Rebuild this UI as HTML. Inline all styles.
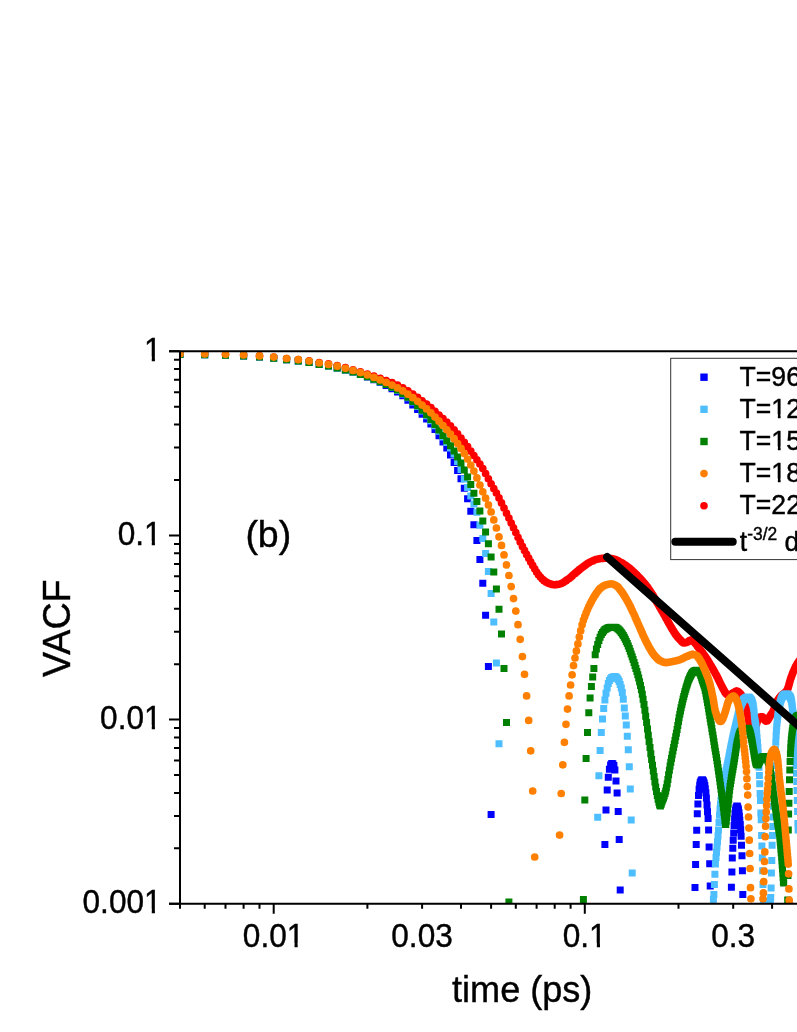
<!DOCTYPE html>
<html><head><meta charset="utf-8"><title>VACF</title>
<style>
html,body{margin:0;padding:0;background:#fff;overflow:hidden}
svg{display:block;will-change:transform}
text{font-family:"Liberation Sans",sans-serif;fill:#000;stroke:#000;stroke-width:.4px}
</style></head>
<body>
<svg width="797" height="1032" viewBox="0 0 797 1032">
<rect width="797" height="1032" fill="#fff"/>
<defs><clipPath id="pa"><rect x="180" y="351.3" width="627" height="552.5"/></clipPath></defs>
<g clip-path="url(#pa)">
<path fill="none" stroke="#ff0000" stroke-width="7.7" stroke-linecap="round" d="M180 353.7h.01M204.7 354h.01M225.5 354.3h.01M243.6 355h.01M259.5 355.9h.01M273.7 357.1h.01M286.6 358.5h.01M298.3 359.6h.01M309.1 360.8h.01M319.2 362.6h.01M328.5 363.8h.01M337.2 365.6h.01M345.4 367.7h.01M353.1 369.8h.01M360.4 371.8h.01M367.4 374h.01M373.9 376.2h.01M380.2 378.3h.01M386.2 380.5h.01M392 382.7h.01M397.5 385.2h.01M402.8 387.8h.01M407.9 390.8h.01M412.8 394h.01M417.6 397.4h.01M422.1 400.8h.01M426.6 404.2h.01M430.9 407.7h.01M435 411.3h.01M439 415h.01M443 418.6h.01M446.8 422.2h.01M450.5 425.9h.01M454.1 429.8h.01M457.6 433.9h.01M461 438.1h.01M464.3 442.3h.01M467.6 446.7h.01M470.8 451.2h.01M473.9 455.6h.01M476.9 459.8h.01M479.9 464.1h.01M482.8 468.6h.01M485.6 473.6h.01M488.4 478.8h.01M491.1 483.8h.01M493.8 488.5h.01M496.4 493.1h.01M499 497.9h.01M501.5 502.9h.01M504 508.1h.01M506.5 513.2h.01M508.9 518.1h.01M511.2 523h.01M513.5 527.8h.01M515.8 532.6h.01M518 537.3h.01M520.2 541.9h.01M522.4 546.4h.01M524.5 550.4h.01M526.6 554.4h.01M528.7 558.2h.01M530.7 561.9h.01M532.7 565.4h.01M534.7 568.8h.01M536.6 572h.01M538.5 574.8h.01M540.4 577h.01M542.3 579.1h.01M544.1 580.7h.01M545.9 581.9h.01M547.7 582.9h.01M549.5 583.7h.01M551.2 584.3h.01M553 584.6h.01M554.7 584.8h.01M556.3 584.7h.01M558 584.4h.01M559.6 584.1h.01M561.2 583.6h.01M562.8 582.8h.01M564.4 581.8h.01M566 580.7h.01M567.5 579.6h.01M569.1 578.5h.01M570.6 577.3h.01M572.1 575.9h.01M573.5 574.6h.01M575 573.4h.01M576.4 572.2h.01M577.9 570.9h.01M579.3 569.7h.01M580.7 568.6h.01M582.1 567.5h.01M583.4 566.5h.01M584.8 565.5h.01M586.1 564.5h.01M587.5 563.6h.01M588.8 562.8h.01M590.1 562.1h.01M591.4 561.5h.01M592.7 560.9h.01M593.9 560.3h.01M595.2 559.8h.01M596.4 559.4h.01M597.7 559.1h.01M598.9 558.9h.01M600.1 558.7h.01M601.3 558.5h.01M602.5 558.4h.01M603.7 558.3h.01M604.9 558.2h.01M606 558.2h.01M607.2 558.2h.01M608.3 558.3h.01M609.4 558.4h.01M610.6 558.5h.01M611.7 558.7h.01M612.8 558.8h.01M613.9 559h.01M614.9 559.4h.01M616 559.8h.01M617.1 560.3h.01M618.2 560.9h.01M619.2 561.5h.01M620.2 562h.01M621.3 562.6h.01M622.3 563.2h.01M623.3 563.8h.01M624.3 564.5h.01M625.3 565.2h.01M626.3 565.9h.01M627.3 566.6h.01M628.3 567.4h.01M629.3 568.1h.01M630.3 568.9h.01M631.2 569.8h.01M632.2 570.6h.01M633.1 571.5h.01M634.1 572.4h.01M635 573.3h.01M635.9 574.2h.01M636.9 575.2h.01M637.8 576.1h.01M638.7 577h.01M639.6 577.9h.01M640.5 578.8h.01M641.4 579.8h.01M642.3 580.8h.01M643.1 581.8h.01M644 582.8h.01M644.9 583.8h.01M645.7 584.9h.01M646.6 586h.01M647.5 587.2h.01M648.3 588.3h.01M649.1 589.6h.01M650 590.8h.01M650.8 592h.01M651.6 593.3h.01M652.5 594.6h.01M653.3 595.9h.01M654.1 597.3h.01M654.9 598.7h.01M655.7 600.1h.01M656.5 601.4h.01M657.3 602.8h.01M658.1 604.1h.01M658.9 605.5h.01M659.6 606.8h.01M660.4 608.1h.01M661.2 609.4h.01M661.9 610.8h.01M662.7 612.1h.01M663.5 613.4h.01M664.2 614.7h.01M665 616h.01M665.7 617.4h.01M666.4 618.7h.01M667.2 620.1h.01M667.9 621.4h.01M668.6 622.7h.01M669.4 624h.01M670.1 625.3h.01M670.8 626.5h.01M671.5 627.7h.01M672.2 628.9h.01M672.9 630.1h.01M673.6 631.2h.01M674.3 632.3h.01M675 633.4h.01M675.7 634.4h.01M676.4 635.3h.01M677.1 636.2h.01M677.8 637.1h.01M678.5 637.9h.01M679.1 638.6h.01M679.8 639.3h.01M680.5 640h.01M681.1 640.6h.01M681.8 641.4h.01M682.4 642h.01M683.1 642.6h.01M683.7 642.9h.01M684.4 643h.01M685 642.9h.01M685.7 642.7h.01M686.3 642.5h.01M687 642.3h.01M687.6 642h.01M688.2 641.5h.01M688.8 641h.01M689.5 640.5h.01M690.1 640.3h.01M690.7 640.3h.01M691.3 640.4h.01M691.9 640.6h.01M692.6 640.8h.01M693.2 641.1h.01M693.8 641.5h.01M694.4 642.1h.01M695 642.9h.01M695.6 643.6h.01M696.2 644.3h.01M696.7 645.1h.01M697.3 646h.01M697.9 646.8h.01M698.5 647.6h.01M699.1 648.4h.01M699.7 649.1h.01M700.2 649.8h.01M700.8 650.6h.01M701.4 651.3h.01M702 652h.01M702.5 652.7h.01M703.1 653.5h.01M703.6 654.3h.01M704.2 655.1h.01M704.8 655.9h.01M705.3 656.7h.01M705.9 657.5h.01M706.4 658.4h.01M707 659.2h.01M707.5 660.1h.01M708.1 660.9h.01M708.6 661.8h.01M709.1 662.7h.01M709.7 663.6h.01M710.2 664.5h.01M710.7 665.3h.01M711.3 666.2h.01M711.8 667.1h.01M712.3 668h.01M712.9 668.9h.01M713.4 669.9h.01M713.9 670.8h.01M714.4 671.7h.01M714.9 672.6h.01M715.4 673.5h.01M716 674.5h.01M716.5 675.4h.01M717 676.4h.01M717.5 677.3h.01M718 678.4h.01M718.5 679.4h.01M719 680.4h.01M719.5 681.5h.01M720 682.5h.01M720.5 683.6h.01M721 684.6h.01M721.5 685.6h.01M722 686.5h.01M722.5 687.4h.01M722.9 688.3h.01M723.4 689.2h.01M723.9 690.1h.01M724.4 691h.01M724.9 691.9h.01M725.4 692.6h.01M725.8 693.3h.01M726.3 693.8h.01M726.8 694.1h.01M727.2 694.4h.01M727.7 694.7h.01M728.2 695h.01M728.7 695.2h.01M729.1 695.3h.01M729.6 695.3h.01M730 695.2h.01M730.5 695h.01M731 694.6h.01M731.4 694.2h.01M731.9 693.8h.01M732.3 693.5h.01M732.8 693.1h.01M733.2 692.9h.01M733.7 692.6h.01M734.1 692.3h.01M734.6 692h.01M735 691.8h.01M735.5 691.5h.01M735.9 691.4h.01M736.3 691.2h.01M736.8 691.2h.01M737.2 691.3h.01M737.7 691.4h.01M738.1 691.7h.01M738.5 692h.01M739 692.4h.01M739.4 692.8h.01M739.8 693.3h.01M740.3 693.7h.01M740.7 694.2h.01M741.1 694.7h.01M741.5 695.4h.01M742 696h.01M742.4 696.8h.01M742.8 697.6h.01M743.2 698.5h.01M743.6 699.5h.01M744 700.5h.01M744.5 701.5h.01M744.9 702.7h.01M745.3 703.9h.01M745.7 705.3h.01M746.1 706.9h.01M746.5 708.7h.01M746.9 710.6h.01M747.3 712.6h.01M747.7 714.7h.01M748.1 716.7h.01M748.5 719h.01M748.9 721.5h.01M749.3 724h.01M749.7 726.6h.01M750.1 729.6h.01M750.5 732.4h.01M750.9 734.7h.01M751.3 736.5h.01M751.7 738.3h.01M752.1 739.8h.01M752.5 740.8h.01M752.9 741h.01M753.3 740.3h.01M753.7 738.8h.01M754.1 736.9h.01M754.4 734.8h.01M754.8 732.8h.01M755.2 731h.01M755.6 728.9h.01M756 726.8h.01M756.4 724.8h.01M756.7 723.2h.01M757.1 722h.01M757.5 720.9h.01M757.9 719.9h.01M758.2 719h.01M758.6 718.3h.01M759 717.7h.01M759.4 717.5h.01M759.7 717.3h.01M760.1 717.1h.01M760.5 717h.01M760.8 716.9h.01M761.2 716.8h.01M761.6 716.8h.01M761.9 716.8h.01M762.3 716.9h.01M762.7 717.2h.01M763 717.6h.01M763.4 718h.01M763.7 718.5h.01M764.1 719.1h.01M764.5 719.6h.01M764.8 720.1h.01M765.2 720.5h.01M765.5 720.9h.01M765.9 721.1h.01M766.2 721.2h.01M766.6 721.1h.01M766.9 720.9h.01M767.3 720.6h.01M767.6 720.2h.01M768 719.7h.01M768.3 719.1h.01M768.7 718.5h.01M769 717.9h.01M769.4 717.3h.01M769.7 716.7h.01M770.1 716.2h.01M770.4 715.7h.01M770.7 715.2h.01M771.1 714.7h.01M771.4 714.2h.01M771.8 713.7h.01M772.1 713.1h.01M772.4 712.6h.01M772.8 711.9h.01M773.1 711.3h.01M773.4 710.5h.01M773.8 709.7h.01M774.1 708.8h.01M774.4 707.8h.01M774.8 706.9h.01M775.1 705.9h.01M775.4 705h.01M775.8 704.1h.01M776.1 703.3h.01M776.4 702.5h.01M776.7 701.9h.01M777.1 701.3h.01M777.4 700.8h.01M777.7 700.3h.01M778 699.8h.01M778.4 699.3h.01M778.7 698.9h.01M779 698.4h.01M779.3 698h.01M779.7 697.6h.01M780 697.2h.01M780.3 696.8h.01M780.6 696.4h.01M780.9 696.1h.01M781.2 695.7h.01M781.6 695.4h.01M781.9 695.1h.01M782.2 694.8h.01M782.5 694.6h.01M782.8 694.3h.01M783.1 694.1h.01M783.4 693.8h.01M783.7 693.6h.01M784.1 693.4h.01M784.4 693.1h.01M784.7 692.9h.01M785 692.6h.01M785.3 692.3h.01M785.6 692h.01M785.9 691.7h.01M786.2 691.3h.01M786.5 691h.01M786.8 690.5h.01M787.1 690.1h.01M787.4 689.4h.01M787.7 688.7h.01M788 687.9h.01M788.3 687h.01M788.6 686h.01M788.9 684.9h.01M789.2 683.9h.01M789.5 682.8h.01M789.8 681.7h.01M790.1 680.6h.01M790.4 679.6h.01M790.7 678.6h.01M791 677.7h.01M791.3 676.9h.01M791.6 676.1h.01M791.9 675.3h.01M792.2 674.6h.01M792.4 673.8h.01M792.7 673.1h.01M793 672.4h.01M793.3 671.7h.01M793.6 671.1h.01M793.9 670.4h.01M794.2 669.8h.01M794.5 669.1h.01M794.7 668.5h.01M795 667.9h.01M795.3 667.3h.01M795.6 666.7h.01M795.9 666.2h.01M796.2 665.6h.01M796.5 665.1h.01M796.7 664.6h.01M797 664.2h.01M797.3 663.7h.01M797.6 663.3h.01M797.9 662.9h.01M798.1 662.5h.01M798.4 662.1h.01M798.7 661.7h.01M799 661.3h.01M799.2 660.9h.01M799.5 660.6h.01M799.8 660.3h.01M800.1 659.9h.01M800.3 659.6h.01M800.6 659.4h.01M800.9 659.1h.01M801.2 659h.01"/>
<path fill="#0000ff" d="M176.5 351h7v7h-7zM201.2 351.3h7v7h-7zM222 351.7h7v7h-7zM240.1 352.5h7v7h-7zM256 353.5h7v7h-7zM270.2 354.7h7v7h-7zM283.1 356.2h7v7h-7zM294.8 357.5h7v7h-7zM305.6 359.1h7v7h-7zM315.7 361h7v7h-7zM325 362.6h7v7h-7zM333.7 364.4h7v7h-7zM341.9 366.5h7v7h-7zM349.6 368.6h7v7h-7zM356.9 370.9h7v7h-7zM363.9 373.5h7v7h-7zM370.4 376.2h7v7h-7zM376.7 379.1h7v7h-7zM382.7 382.1h7v7h-7zM388.5 385.2h7v7h-7zM394 388.6h7v7h-7zM399.3 392.3h7v7h-7zM404.4 396.7h7v7h-7zM409.3 401.4h7v7h-7zM414.1 406h7v7h-7zM418.6 410.7h7v7h-7zM423.1 415.5h7v7h-7zM427.4 420.6h7v7h-7zM431.5 426.1h7v7h-7zM435.5 432.2h7v7h-7zM439.5 438.4h7v7h-7zM443.3 444.6h7v7h-7zM447 451.4h7v7h-7zM450.6 459h7v7h-7zM454.1 466.9h7v7h-7zM457.5 475.3h7v7h-7zM460.8 484.7h7v7h-7zM464.1 495.3h7v7h-7zM467.3 507.8h7v7h-7zM470.4 521.2h7v7h-7zM473.4 536.9h7v7h-7zM476.4 556h7v7h-7zM479.3 579.7h7v7h-7zM482.1 611.8h7v7h-7zM484.9 662.9h7v7h-7zM487.6 811.1h7v7h-7zM601.4 841h7v7h-7zM602.5 806.6h7v7h-7zM603.7 786.4h7v7h-7zM604.8 773.8h7v7h-7zM605.9 765.8h7v7h-7zM607.1 761.5h7v7h-7zM608.2 760h7v7h-7zM609.3 760.2h7v7h-7zM610.4 761.9h7v7h-7zM611.4 766.4h7v7h-7zM612.5 777.4h7v7h-7zM613.6 789.5h7v7h-7zM614.7 808h7v7h-7zM615.7 835.9h7v7h-7zM616.7 886.6h7v7h-7zM691.5 884h7v7h-7zM692.1 860.9h7v7h-7zM692.7 841.1h7v7h-7zM693.2 826.8h7v7h-7zM693.8 810.3h7v7h-7zM694.4 800.4h7v7h-7zM695 792.1h7v7h-7zM695.6 785.8h7v7h-7zM696.2 781.8h7v7h-7zM696.7 779.2h7v7h-7zM697.3 777.8h7v7h-7zM697.9 776.8h7v7h-7zM698.5 776.3h7v7h-7zM699 776.3h7v7h-7zM699.6 777h7v7h-7zM700.1 778.2h7v7h-7zM700.7 779.6h7v7h-7zM701.3 782h7v7h-7zM701.8 785.3h7v7h-7zM702.4 789.3h7v7h-7zM702.9 794.5h7v7h-7zM703.5 801.5h7v7h-7zM704 808.2h7v7h-7zM704.6 815.1h7v7h-7zM705.1 826.6h7v7h-7zM705.6 843.6h7v7h-7zM706.2 860.2h7v7h-7zM706.7 882.5h7v7h-7zM727.9 883.7h7v7h-7zM728.4 868.6h7v7h-7zM728.8 854.6h7v7h-7zM729.3 844.7h7v7h-7zM729.7 836.7h7v7h-7zM730.2 829.6h7v7h-7zM730.6 821.9h7v7h-7zM731.1 815.5h7v7h-7zM731.5 810.3h7v7h-7zM732 806.7h7v7h-7zM732.4 804.8h7v7h-7zM732.8 803.4h7v7h-7zM733.3 802.6h7v7h-7zM733.7 802.6h7v7h-7zM734.2 803.5h7v7h-7zM734.6 804.9h7v7h-7zM735 806.6h7v7h-7zM735.5 809.2h7v7h-7zM735.9 812.7h7v7h-7zM736.3 816.7h7v7h-7zM736.8 821.1h7v7h-7zM737.2 826.3h7v7h-7zM737.6 832.7h7v7h-7zM738 841.8h7v7h-7zM738.5 852.2h7v7h-7zM738.9 867.3h7v7h-7zM739.3 890.9h7v7h-7z"/>
<path fill="#4dbeff" d="M176.5 351h7v7h-7zM201.2 351.3h7v7h-7zM222 351.7h7v7h-7zM240.1 352.5h7v7h-7zM256 353.5h7v7h-7zM270.2 354.7h7v7h-7zM283.1 356.2h7v7h-7zM294.8 357.5h7v7h-7zM305.6 359.1h7v7h-7zM315.7 361h7v7h-7zM325 362.6h7v7h-7zM333.7 364.5h7v7h-7zM341.9 366.5h7v7h-7zM349.6 368.6h7v7h-7zM356.9 370.9h7v7h-7zM363.9 373.3h7v7h-7zM370.4 375.9h7v7h-7zM376.7 378.5h7v7h-7zM382.7 381.1h7v7h-7zM388.5 384h7v7h-7zM394 387h7v7h-7zM399.3 390.4h7v7h-7zM404.4 394.3h7v7h-7zM409.3 398.6h7v7h-7zM414.1 403h7v7h-7zM418.6 407.5h7v7h-7zM423.1 412.2h7v7h-7zM427.4 417.2h7v7h-7zM431.5 422.3h7v7h-7zM435.5 427.8h7v7h-7zM439.5 433.5h7v7h-7zM443.3 439.1h7v7h-7zM447 444.5h7v7h-7zM450.6 450.5h7v7h-7zM454.1 458h7v7h-7zM457.5 466h7v7h-7zM460.8 475.5h7v7h-7zM464.1 484h7v7h-7zM467.3 492.5h7v7h-7zM470.4 500.5h7v7h-7zM473.4 508.8h7v7h-7zM476.4 521.8h7v7h-7zM479.3 534.9h7v7h-7zM482.1 549.9h7v7h-7zM484.9 568h7v7h-7zM487.6 590.1h7v7h-7zM490.3 618.5h7v7h-7zM492.9 659.5h7v7h-7zM495.5 740.2h7v7h-7zM594.2 813.8h7v7h-7zM595.4 772.2h7v7h-7zM596.6 746.9h7v7h-7zM597.8 729h7v7h-7zM599 715.6h7v7h-7zM600.2 705.1h7v7h-7zM601.4 696.5h7v7h-7zM602.5 689.7h7v7h-7zM603.7 684.4h7v7h-7zM604.8 679.9h7v7h-7zM605.9 677h7v7h-7zM607.1 675.2h7v7h-7zM608.2 674h7v7h-7zM609.3 673.5h7v7h-7zM610.4 673.2h7v7h-7zM611.4 673.1h7v7h-7zM612.5 673.6h7v7h-7zM613.6 674.6h7v7h-7zM614.7 675.9h7v7h-7zM615.7 678h7v7h-7zM616.7 680.9h7v7h-7zM617.8 684.4h7v7h-7zM618.8 689.1h7v7h-7zM619.8 695.7h7v7h-7zM620.8 704.5h7v7h-7zM621.8 712.4h7v7h-7zM622.8 721.4h7v7h-7zM623.8 732.7h7v7h-7zM624.8 746.2h7v7h-7zM625.8 763.2h7v7h-7zM626.8 785.4h7v7h-7zM627.7 816.5h7v7h-7zM628.7 869.4h7v7h-7zM709.9 896h7v7h-7zM710.4 891.1h7v7h-7zM710.9 880.9h7v7h-7zM711.4 870.7h7v7h-7zM711.9 860.4h7v7h-7zM712.5 854.1h7v7h-7zM713 848.8h7v7h-7zM713.5 843.5h7v7h-7zM714 838.2h7v7h-7zM714.5 832.6h7v7h-7zM715 826.4h7v7h-7zM715.5 819.1h7v7h-7zM716 811.8h7v7h-7zM716.5 805.4h7v7h-7zM717 800.7h7v7h-7zM717.5 796.7h7v7h-7zM718 793.1h7v7h-7zM718.5 789.8h7v7h-7zM719 786.8h7v7h-7zM719.4 783.9h7v7h-7zM719.9 781.2h7v7h-7zM720.4 778.4h7v7h-7zM720.9 775.8h7v7h-7zM721.4 773.3h7v7h-7zM721.9 770.9h7v7h-7zM722.3 768.6h7v7h-7zM722.8 766.3h7v7h-7zM723.3 764.1h7v7h-7zM723.7 761.9h7v7h-7zM724.2 759.6h7v7h-7zM724.7 757.3h7v7h-7zM725.2 754.9h7v7h-7zM725.6 752.5h7v7h-7zM726.1 750.1h7v7h-7zM726.5 747.7h7v7h-7zM727 745.3h7v7h-7zM727.5 742.9h7v7h-7zM727.9 740.7h7v7h-7zM728.4 738.5h7v7h-7zM728.8 736.4h7v7h-7zM729.3 734.3h7v7h-7zM729.7 732.3h7v7h-7zM730.2 730.4h7v7h-7zM730.6 728.5h7v7h-7zM731.1 726.6h7v7h-7zM731.5 724.7h7v7h-7zM732 722.8h7v7h-7zM732.4 721h7v7h-7zM732.8 719.2h7v7h-7zM733.3 717.2h7v7h-7zM733.7 715.3h7v7h-7zM734.2 713.4h7v7h-7zM734.6 711.5h7v7h-7zM735 709.7h7v7h-7zM735.5 708h7v7h-7zM735.9 706.4h7v7h-7zM736.3 705h7v7h-7zM736.8 703.8h7v7h-7zM737.2 702.6h7v7h-7zM737.6 701.5h7v7h-7zM738 700.3h7v7h-7zM738.5 699.3h7v7h-7zM738.9 698.4h7v7h-7zM739.3 697.5h7v7h-7zM739.7 696.7h7v7h-7zM740.1 696.1h7v7h-7zM740.5 695.6h7v7h-7zM741 695.3h7v7h-7zM741.4 695h7v7h-7zM741.8 694.6h7v7h-7zM742.2 694.4h7v7h-7zM742.6 694.1h7v7h-7zM743 693.9h7v7h-7zM743.4 693.7h7v7h-7zM743.8 693.6h7v7h-7zM744.2 693.5h7v7h-7zM744.6 693.5h7v7h-7zM745 693.6h7v7h-7zM745.4 693.8h7v7h-7zM745.8 694.1h7v7h-7zM746.2 694.5h7v7h-7zM746.6 694.9h7v7h-7zM747 695.4h7v7h-7zM747.4 695.9h7v7h-7zM747.8 696.5h7v7h-7zM748.2 697.3h7v7h-7zM748.6 698.2h7v7h-7zM749 699.4h7v7h-7zM749.4 700.8h7v7h-7zM749.8 702.4h7v7h-7zM750.2 705.2h7v7h-7zM750.6 708.5h7v7h-7zM750.9 712.6h7v7h-7zM751.3 715.7h7v7h-7zM751.7 718.1h7v7h-7zM752.1 720.2h7v7h-7zM752.5 722.7h7v7h-7zM752.9 726h7v7h-7zM753.2 729.9h7v7h-7zM753.6 734.2h7v7h-7zM754 738.8h7v7h-7zM754.4 743.7h7v7h-7zM754.7 749.2h7v7h-7zM755.1 755.6h7v7h-7zM755.5 763.7h7v7h-7zM755.9 771.9h7v7h-7zM756.2 780.2h7v7h-7zM756.6 789.9h7v7h-7zM757 797.1h7v7h-7zM757.3 809.6h7v7h-7zM757.7 816.2h7v7h-7zM758.1 832.1h7v7h-7zM758.4 842.4h7v7h-7zM758.8 854.3h7v7h-7zM759.2 867.2h7v7h-7zM759.5 880.9h7v7h-7zM759.9 898h7v7h-7zM766.9 896.5h7v7h-7zM767.2 894h7v7h-7zM767.6 884.4h7v7h-7zM767.9 869.4h7v7h-7zM768.3 856.9h7v7h-7zM768.6 841.8h7v7h-7zM768.9 832h7v7h-7zM769.3 822.9h7v7h-7zM769.6 813.4h7v7h-7zM769.9 802.8h7v7h-7zM770.3 792.1h7v7h-7zM770.6 781.7h7v7h-7zM770.9 771.4h7v7h-7zM771.3 762.1h7v7h-7zM771.6 753.8h7v7h-7zM771.9 745.9h7v7h-7zM772.3 738.7h7v7h-7zM772.6 732.3h7v7h-7zM772.9 727.2h7v7h-7zM773.2 723h7v7h-7zM773.6 719.2h7v7h-7zM773.9 716h7v7h-7zM774.2 713.1h7v7h-7zM774.5 710.7h7v7h-7zM774.9 708.4h7v7h-7zM775.2 706.3h7v7h-7zM775.5 704.4h7v7h-7zM775.8 702.6h7v7h-7zM776.2 701h7v7h-7zM776.5 699.7h7v7h-7zM776.8 698.5h7v7h-7zM777.1 697.5h7v7h-7zM777.4 696.6h7v7h-7zM777.7 695.7h7v7h-7zM778.1 694.8h7v7h-7zM778.4 694.1h7v7h-7zM778.7 693.5h7v7h-7zM779 692.9h7v7h-7zM779.3 692.5h7v7h-7zM779.6 692.2h7v7h-7zM779.9 691.9h7v7h-7zM780.2 691.6h7v7h-7zM780.6 691.4h7v7h-7zM780.9 691.1h7v7h-7zM781.2 690.9h7v7h-7zM781.5 690.7h7v7h-7zM781.8 690.6h7v7h-7zM782.1 690.4h7v7h-7zM782.4 690.4h7v7h-7zM782.7 690.3h7v7h-7zM783 690.3h7v7h-7zM783.3 690.4h7v7h-7zM783.6 690.5h7v7h-7zM783.9 690.6h7v7h-7zM784.2 690.9h7v7h-7zM784.5 691.1h7v7h-7zM784.8 691.4h7v7h-7zM785.1 691.6h7v7h-7zM785.4 691.9h7v7h-7zM785.7 692.2h7v7h-7zM786 692.6h7v7h-7zM786.3 693h7v7h-7zM786.6 693.5h7v7h-7zM786.9 694h7v7h-7zM787.2 694.7h7v7h-7zM787.5 695.5h7v7h-7zM787.8 696.6h7v7h-7zM788.1 698.2h7v7h-7zM788.4 700.3h7v7h-7zM788.7 702.5h7v7h-7zM788.9 704.6h7v7h-7zM789.2 706.8h7v7h-7zM789.5 709h7v7h-7zM789.8 711.4h7v7h-7zM790.1 714.1h7v7h-7zM790.4 717.2h7v7h-7zM790.7 720.8h7v7h-7zM791 725.2h7v7h-7zM791.2 730.3h7v7h-7zM791.5 736h7v7h-7zM791.8 742h7v7h-7zM792.1 748.3h7v7h-7zM792.4 754.9h7v7h-7zM792.7 762h7v7h-7zM793 769.7h7v7h-7zM793.2 778h7v7h-7zM793.5 787h7v7h-7zM793.8 797h7v7h-7zM794.1 808.1h7v7h-7zM794.4 820h7v7h-7zM794.6 826.5h7v7h-7z"/>
<path fill="#008000" d="M176.5 351h7v7h-7zM201.2 351.3h7v7h-7zM222 351.7h7v7h-7zM240.1 352.5h7v7h-7zM256 353.5h7v7h-7zM270.2 354.7h7v7h-7zM283.1 356.2h7v7h-7zM294.8 357.5h7v7h-7zM305.6 359.1h7v7h-7zM315.7 361h7v7h-7zM325 362.6h7v7h-7zM333.7 364.5h7v7h-7zM341.9 366.5h7v7h-7zM349.6 368.6h7v7h-7zM356.9 370.9h7v7h-7zM363.9 373.3h7v7h-7zM370.4 375.8h7v7h-7zM376.7 378.3h7v7h-7zM382.7 380.9h7v7h-7zM388.5 383.7h7v7h-7zM394 386.6h7v7h-7zM399.3 389.9h7v7h-7zM404.4 393.8h7v7h-7zM409.3 398h7v7h-7zM414.1 402.3h7v7h-7zM418.6 406.7h7v7h-7zM423.1 411.2h7v7h-7zM427.4 416h7v7h-7zM431.5 421h7v7h-7zM435.5 426.4h7v7h-7zM439.5 432h7v7h-7zM443.3 437.3h7v7h-7zM447 442.2h7v7h-7zM450.6 447.5h7v7h-7zM454.1 453.6h7v7h-7zM457.5 459.6h7v7h-7zM460.8 466.6h7v7h-7zM464.1 473.6h7v7h-7zM467.3 481.1h7v7h-7zM470.4 489.7h7v7h-7zM473.4 498.1h7v7h-7zM476.4 507.4h7v7h-7zM479.3 517.4h7v7h-7zM482.1 528.4h7v7h-7zM484.9 540.3h7v7h-7zM487.6 553.5h7v7h-7zM490.3 568.4h7v7h-7zM492.9 585.5h7v7h-7zM495.5 605.8h7v7h-7zM498 630.6h7v7h-7zM500.5 664.9h7v7h-7zM503 719.1h7v7h-7zM505.4 898.5h7v7h-7zM579.9 896h7v7h-7zM581.3 796.5h7v7h-7zM582.6 755.1h7v7h-7zM584 729h7v7h-7zM585.3 709.3h7v7h-7zM586.6 694.4h7v7h-7zM587.9 683.1h7v7h-7zM589.2 673.6h7v7h-7zM590.4 664.9h7v7h-7zM591.7 651.2h7v7h-7zM592.9 645.4h7v7h-7zM594.2 641.1h7v7h-7zM595.4 637.1h7v7h-7zM596.6 633.7h7v7h-7zM597.8 631.1h7v7h-7zM599 629.1h7v7h-7zM600.2 627.4h7v7h-7zM601.4 626.1h7v7h-7zM602.5 625.4h7v7h-7zM603.7 624.7h7v7h-7zM604.8 624.2h7v7h-7zM605.9 623.9h7v7h-7zM607.1 623.7h7v7h-7zM608.2 623.7h7v7h-7zM609.3 623.7h7v7h-7zM610.4 623.7h7v7h-7zM611.4 623.7h7v7h-7zM612.5 624h7v7h-7zM613.6 624.7h7v7h-7zM614.7 625.5h7v7h-7zM615.7 626.4h7v7h-7zM616.7 627.5h7v7h-7zM617.8 628.9h7v7h-7zM618.8 630.4h7v7h-7zM619.8 632.1h7v7h-7zM620.8 633.8h7v7h-7zM621.8 635.8h7v7h-7zM622.8 637.9h7v7h-7zM623.8 640.1h7v7h-7zM624.8 642.5h7v7h-7zM625.8 645.1h7v7h-7zM626.8 647.8h7v7h-7zM627.7 650.6h7v7h-7zM628.7 653.3h7v7h-7zM629.6 656.1h7v7h-7zM630.6 659h7v7h-7zM631.5 661.9h7v7h-7zM632.4 664.9h7v7h-7zM633.4 668h7v7h-7zM634.3 671.2h7v7h-7zM635.2 674.6h7v7h-7zM636.1 678.3h7v7h-7zM637 682.1h7v7h-7zM637.9 686.3h7v7h-7zM638.8 690.8h7v7h-7zM639.6 695.7h7v7h-7zM640.5 701.1h7v7h-7zM641.4 706.8h7v7h-7zM642.2 712.7h7v7h-7zM643.1 719h7v7h-7zM644 725.4h7v7h-7zM644.8 731.7h7v7h-7zM645.6 737.9h7v7h-7zM646.5 744.1h7v7h-7zM647.3 750.2h7v7h-7zM648.1 756.1h7v7h-7zM649 761.8h7v7h-7zM649.8 767.5h7v7h-7zM650.6 773.1h7v7h-7zM651.4 778.5h7v7h-7zM652.2 783.5h7v7h-7zM653 788h7v7h-7zM653.8 792.1h7v7h-7zM654.6 795.7h7v7h-7zM655.4 798.7h7v7h-7zM656.1 801.4h7v7h-7zM656.9 802.6h7v7h-7zM657.7 800.8h7v7h-7zM658.4 798.4h7v7h-7zM659.2 796.4h7v7h-7zM660 794.4h7v7h-7zM660.7 792.4h7v7h-7zM661.5 790.1h7v7h-7zM662.2 787.5h7v7h-7zM662.9 784.2h7v7h-7zM663.7 780.3h7v7h-7zM664.4 775.9h7v7h-7zM665.1 771.3h7v7h-7zM665.9 766.8h7v7h-7zM666.6 762.6h7v7h-7zM667.3 758.7h7v7h-7zM668 754.9h7v7h-7zM668.7 751.2h7v7h-7zM669.4 747.6h7v7h-7zM670.1 744h7v7h-7zM670.8 740.5h7v7h-7zM671.5 736.9h7v7h-7zM672.2 733.3h7v7h-7zM672.9 729.7h7v7h-7zM673.6 726h7v7h-7zM674.3 722.1h7v7h-7zM675 718.1h7v7h-7zM675.6 714.2h7v7h-7zM676.3 710.7h7v7h-7zM677 707.5h7v7h-7zM677.6 704.3h7v7h-7zM678.3 701.3h7v7h-7zM678.9 698.4h7v7h-7zM679.6 695.6h7v7h-7zM680.2 692.9h7v7h-7zM680.9 690.4h7v7h-7zM681.5 688h7v7h-7zM682.2 685.8h7v7h-7zM682.8 683.5h7v7h-7zM683.5 681.4h7v7h-7zM684.1 679.4h7v7h-7zM684.7 677.5h7v7h-7zM685.3 675.9h7v7h-7zM686 674.5h7v7h-7zM686.6 673.2h7v7h-7zM687.2 671.9h7v7h-7zM687.8 670.8h7v7h-7zM688.4 669.7h7v7h-7zM689.1 668.9h7v7h-7zM689.7 668.2h7v7h-7zM690.3 667.8h7v7h-7zM690.9 667.5h7v7h-7zM691.5 667.2h7v7h-7zM692.1 667h7v7h-7zM692.7 666.8h7v7h-7zM693.2 666.8h7v7h-7zM693.8 667h7v7h-7zM694.4 667.4h7v7h-7zM695 667.9h7v7h-7zM695.6 668.6h7v7h-7zM696.2 669.3h7v7h-7zM696.7 670.3h7v7h-7zM697.3 671.9h7v7h-7zM697.9 673.8h7v7h-7zM698.5 675.7h7v7h-7zM699 677.3h7v7h-7zM699.6 678.8h7v7h-7zM700.1 680.4h7v7h-7zM700.7 682.2h7v7h-7zM701.3 684.3h7v7h-7zM701.8 686.9h7v7h-7zM702.4 689.8h7v7h-7zM702.9 692.7h7v7h-7zM703.5 695.8h7v7h-7zM704 698.9h7v7h-7zM704.6 702.1h7v7h-7zM705.1 705.3h7v7h-7zM705.6 708.6h7v7h-7zM706.2 711.9h7v7h-7zM706.7 715.1h7v7h-7zM707.2 718.4h7v7h-7zM707.8 721.6h7v7h-7zM708.3 724.9h7v7h-7zM708.8 728.2h7v7h-7zM709.4 731.5h7v7h-7zM709.9 734.8h7v7h-7zM710.4 738.1h7v7h-7zM710.9 741.4h7v7h-7zM711.4 744.6h7v7h-7zM711.9 747.7h7v7h-7zM712.5 750.9h7v7h-7zM713 754.1h7v7h-7zM713.5 757.3h7v7h-7zM714 760.6h7v7h-7zM714.5 763.9h7v7h-7zM715 767.4h7v7h-7zM715.5 770.9h7v7h-7zM716 774.6h7v7h-7zM716.5 778.3h7v7h-7zM717 782h7v7h-7zM717.5 785.7h7v7h-7zM718 789.2h7v7h-7zM718.5 792.6h7v7h-7zM719 796.1h7v7h-7zM719.4 799.8h7v7h-7zM719.9 804h7v7h-7zM720.4 808.4h7v7h-7zM720.9 812.6h7v7h-7zM721.4 816.9h7v7h-7zM721.9 820.8h7v7h-7zM722.3 821h7v7h-7zM722.8 817.8h7v7h-7zM723.3 813.7h7v7h-7zM723.7 809.7h7v7h-7zM724.2 805.2h7v7h-7zM724.7 800.6h7v7h-7zM725.2 795.9h7v7h-7zM725.6 791h7v7h-7zM726.1 786.7h7v7h-7zM726.5 783.1h7v7h-7zM727 780h7v7h-7zM727.5 777h7v7h-7zM727.9 774.1h7v7h-7zM728.4 771.3h7v7h-7zM728.8 768.6h7v7h-7zM729.3 765.9h7v7h-7zM729.7 763.3h7v7h-7zM730.2 760.7h7v7h-7zM730.6 758h7v7h-7zM731.1 755.3h7v7h-7zM731.5 752.3h7v7h-7zM732 749.3h7v7h-7zM732.4 746.3h7v7h-7zM732.8 743.5h7v7h-7zM733.3 741h7v7h-7zM733.7 738.8h7v7h-7zM734.2 737h7v7h-7zM734.6 735.2h7v7h-7zM735 733.5h7v7h-7zM735.5 732h7v7h-7zM735.9 730.6h7v7h-7zM736.3 729.5h7v7h-7zM736.8 728.5h7v7h-7zM737.2 727.9h7v7h-7zM737.6 727.4h7v7h-7zM738 726.9h7v7h-7zM738.5 726.5h7v7h-7zM738.9 726.2h7v7h-7zM739.3 725.8h7v7h-7zM739.7 725.6h7v7h-7zM740.1 725.4h7v7h-7zM740.5 725.3h7v7h-7zM741 725.2h7v7h-7zM741.4 725.1h7v7h-7zM741.8 725h7v7h-7zM742.2 725h7v7h-7zM742.6 724.9h7v7h-7zM743 724.8h7v7h-7zM743.4 724.8h7v7h-7zM743.8 724.8h7v7h-7zM744.2 724.8h7v7h-7zM744.6 725.1h7v7h-7zM745 725.6h7v7h-7zM745.4 726.3h7v7h-7zM745.8 727.1h7v7h-7zM746.2 727.9h7v7h-7zM746.6 728.9h7v7h-7zM747 730.2h7v7h-7zM747.4 732h7v7h-7zM747.8 734h7v7h-7zM748.2 735.9h7v7h-7zM748.6 738.1h7v7h-7zM749 740.4h7v7h-7zM749.4 742.9h7v7h-7zM749.8 745.4h7v7h-7zM750.2 747.8h7v7h-7zM750.6 750h7v7h-7zM750.9 752.2h7v7h-7zM751.3 754.4h7v7h-7zM751.7 756.6h7v7h-7zM752.1 758.5h7v7h-7zM752.5 759.8h7v7h-7zM752.9 760.4h7v7h-7zM753.2 760.9h7v7h-7zM753.6 761.3h7v7h-7zM754 761.5h7v7h-7zM754.4 761.4h7v7h-7zM754.7 760.8h7v7h-7zM755.1 760h7v7h-7zM755.5 759.1h7v7h-7zM755.9 758.3h7v7h-7zM756.2 757.6h7v7h-7zM756.6 756.9h7v7h-7zM757 756.1h7v7h-7zM757.3 755.4h7v7h-7zM757.7 754.7h7v7h-7zM758.1 754.1h7v7h-7zM758.4 753.7h7v7h-7zM758.8 753.4h7v7h-7zM759.2 753.3h7v7h-7zM759.5 753.2h7v7h-7zM759.9 753.1h7v7h-7zM760.2 753.1h7v7h-7zM760.6 753h7v7h-7zM761 753h7v7h-7zM761.3 753h7v7h-7zM761.7 753h7v7h-7zM762 753.2h7v7h-7zM762.4 753.4h7v7h-7zM762.7 753.8h7v7h-7zM763.1 754.3h7v7h-7zM763.4 754.9h7v7h-7zM763.8 755.6h7v7h-7zM764.1 756.2h7v7h-7zM764.5 757h7v7h-7zM764.8 757.9h7v7h-7zM765.2 759.1h7v7h-7zM765.5 760.6h7v7h-7zM765.9 762.2h7v7h-7zM766.2 764.1h7v7h-7zM766.6 766h7v7h-7zM766.9 767.9h7v7h-7zM767.2 770h7v7h-7zM767.6 772.3h7v7h-7zM767.9 774.9h7v7h-7zM768.3 777.5h7v7h-7zM768.6 780.3h7v7h-7zM768.9 783h7v7h-7zM769.3 785.6h7v7h-7zM769.6 788h7v7h-7zM769.9 790.4h7v7h-7zM770.3 792.8h7v7h-7zM770.6 795.1h7v7h-7zM770.9 797.4h7v7h-7zM771.3 799.7h7v7h-7zM771.6 802h7v7h-7zM771.9 804.2h7v7h-7zM772.3 806.5h7v7h-7zM772.6 808.7h7v7h-7zM772.9 811h7v7h-7zM773.2 813.2h7v7h-7zM773.6 815.2h7v7h-7zM773.9 817.3h7v7h-7zM774.2 819.2h7v7h-7zM774.5 821.2h7v7h-7zM774.9 823.3h7v7h-7zM775.2 825.4h7v7h-7zM775.5 827.6h7v7h-7zM775.8 830h7v7h-7zM776.2 832.6h7v7h-7zM776.5 835.5h7v7h-7zM776.8 838.7h7v7h-7zM777.1 842.2h7v7h-7zM777.4 845.8h7v7h-7zM777.7 849.6h7v7h-7zM778.1 853.5h7v7h-7zM778.4 857.4h7v7h-7zM778.7 861.4h7v7h-7zM779 865.5h7v7h-7zM779.3 869.7h7v7h-7zM779.6 874.1h7v7h-7zM779.9 878.5h7v7h-7zM780.2 879.5h7v7h-7zM784.2 896.5h7v7h-7zM784.5 872.1h7v7h-7zM784.8 826.4h7v7h-7zM785.1 810.4h7v7h-7zM785.4 799.8h7v7h-7zM785.7 787.9h7v7h-7zM786 776.3h7v7h-7zM786.3 766.4h7v7h-7zM786.6 757.9h7v7h-7zM786.9 750.3h7v7h-7zM787.2 744.2h7v7h-7zM787.5 740h7v7h-7zM787.8 736.6h7v7h-7zM788.1 733.6h7v7h-7zM788.4 731h7v7h-7zM788.7 728.8h7v7h-7zM788.9 726.9h7v7h-7zM789.2 725h7v7h-7zM789.5 723.4h7v7h-7zM789.8 721.8h7v7h-7zM790.1 720.4h7v7h-7zM790.4 719.2h7v7h-7zM790.7 718.2h7v7h-7zM791 717.3h7v7h-7zM791.2 716.6h7v7h-7zM791.5 715.9h7v7h-7zM791.8 715.2h7v7h-7zM792.1 714.7h7v7h-7zM792.4 714.1h7v7h-7zM792.7 713.7h7v7h-7zM793 713.3h7v7h-7zM793.2 713h7v7h-7zM793.5 712.8h7v7h-7zM793.8 712.6h7v7h-7zM794.1 712.5h7v7h-7zM794.4 712.3h7v7h-7zM794.6 712.2h7v7h-7zM794.9 712.1h7v7h-7zM795.2 712h7v7h-7zM795.5 711.9h7v7h-7zM795.7 711.8h7v7h-7zM796 711.7h7v7h-7zM796.3 711.6h7v7h-7zM796.6 711.6h7v7h-7zM796.8 711.5h7v7h-7zM797.1 711.5h7v7h-7zM797.4 711.5h7v7h-7zM797.7 711.5h7v7h-7z"/>
<path fill="none" stroke="#ff8000" stroke-width="7.7" stroke-linecap="round" d="M180 353.7h.01M204.7 354h.01M225.5 354.3h.01M243.6 355h.01M259.5 355.9h.01M273.7 357.1h.01M286.6 358.5h.01M298.3 359.7h.01M309.1 361.1h.01M319.2 363h.01M328.5 364.4h.01M337.2 366.2h.01M345.4 368.3h.01M353.1 370.4h.01M360.4 372.6h.01M367.4 374.9h.01M373.9 377.4h.01M380.2 379.9h.01M386.2 382.4h.01M392 385.1h.01M397.5 387.9h.01M402.8 390.9h.01M407.9 394.2h.01M412.8 397.7h.01M417.6 401.3h.01M422.1 405.1h.01M426.6 408.9h.01M430.9 412.8h.01M435 417h.01M439 421.2h.01M443 425.5h.01M446.8 429.8h.01M450.5 434.2h.01M454.1 438.7h.01M457.6 443.5h.01M461 448.4h.01M464.3 453.6h.01M467.6 459.1h.01M470.8 465h.01M473.9 471.1h.01M476.9 477.9h.01M479.9 485h.01M482.8 491.8h.01M485.6 498.2h.01M488.4 504.9h.01M491.1 511.9h.01M493.8 519.9h.01M496.4 528h.01M499 536.8h.01M501.5 545.4h.01M504 554.9h.01M506.5 564.9h.01M508.9 575.5h.01M511.2 586.6h.01M513.5 598.6h.01M515.8 611.1h.01M518 624.7h.01M520.2 639.3h.01M522.4 656.6h.01M524.5 674.3h.01M526.6 695.9h.01M528.7 720.4h.01M530.7 750.8h.01M532.7 791h.01M534.7 857h.01M559.6 835.1h.01M561.2 793.5h.01M562.8 764.8h.01M564.4 742.3h.01M566 724.3h.01M567.5 709.1h.01M569.1 695.9h.01M570.6 685h.01M572.1 674.8h.01M573.5 665.6h.01M575 658h.01M576.4 650.9h.01M577.9 643.9h.01M579.3 636.9h.01M580.7 630.7h.01M582.1 624.7h.01M583.4 620.2h.01M584.8 616.4h.01M586.1 612.9h.01M587.5 609.6h.01M588.8 606.6h.01M590.1 603.9h.01M591.4 601.4h.01M592.7 599h.01M593.9 596.9h.01M595.2 594.9h.01M596.4 593.1h.01M597.7 591.3h.01M598.9 589.7h.01M600.1 588.4h.01M601.3 587.5h.01M602.5 586.6h.01M603.7 585.9h.01M604.9 585.3h.01M606 584.9h.01M607.2 584.6h.01M608.3 584.3h.01M609.4 584.1h.01M610.6 584h.01M611.7 584h.01M612.8 584.2h.01M613.9 584.6h.01M614.9 585.1h.01M616 585.6h.01M617.1 586.3h.01M618.2 587.2h.01M619.2 588.5h.01M620.2 589.8h.01M621.3 591.2h.01M622.3 592.6h.01M623.3 594.1h.01M624.3 595.7h.01M625.3 597.3h.01M626.3 599h.01M627.3 600.8h.01M628.3 602.6h.01M629.3 604.5h.01M630.3 606.4h.01M631.2 608.4h.01M632.2 610.5h.01M633.1 612.5h.01M634.1 614.6h.01M635 616.7h.01M635.9 618.8h.01M636.9 620.9h.01M637.8 623h.01M638.7 625.1h.01M639.6 627.1h.01M640.5 629.2h.01M641.4 631.2h.01M642.3 633.2h.01M643.1 635.2h.01M644 637h.01M644.9 638.9h.01M645.7 640.7h.01M646.6 642.4h.01M647.5 644.1h.01M648.3 645.7h.01M649.1 647.3h.01M650 648.7h.01M650.8 650.1h.01M651.6 651.4h.01M652.5 652.7h.01M653.3 653.9h.01M654.1 654.9h.01M654.9 655.9h.01M655.7 656.8h.01M656.5 657.6h.01M657.3 658.4h.01M658.1 659.2h.01M658.9 659.8h.01M659.6 660.4h.01M660.4 660.8h.01M661.2 661.2h.01M661.9 661.5h.01M662.7 661.9h.01M663.5 662.1h.01M664.2 662.4h.01M665 662.5h.01M665.7 662.6h.01M666.4 662.6h.01M667.2 662.5h.01M667.9 662.5h.01M668.6 662.3h.01M669.4 662.2h.01M670.1 662.1h.01M670.8 661.9h.01M671.5 661.8h.01M672.2 661.6h.01M672.9 661.5h.01M673.6 661.3h.01M674.3 661.2h.01M675 661h.01M675.7 660.9h.01M676.4 660.7h.01M677.1 660.6h.01M677.8 660.4h.01M678.5 660.2h.01M679.1 660h.01M679.8 659.8h.01M680.5 659.5h.01M681.1 659.3h.01M681.8 659h.01M682.4 658.6h.01M683.1 658.3h.01M683.7 658h.01M684.4 657.6h.01M685 657.3h.01M685.7 657h.01M686.3 656.7h.01M687 656.4h.01M687.6 656.2h.01M688.2 655.9h.01M688.8 655.6h.01M689.5 655.3h.01M690.1 655h.01M690.7 654.8h.01M691.3 654.7h.01M691.9 654.6h.01M692.6 654.6h.01M693.2 654.7h.01M693.8 654.7h.01M694.4 654.8h.01M695 654.9h.01M695.6 655.1h.01M696.2 655.3h.01M696.7 655.6h.01M697.3 656.2h.01M697.9 656.9h.01M698.5 657.7h.01M699.1 658.6h.01M699.7 659.5h.01M700.2 660.4h.01M700.8 661.3h.01M701.4 662.4h.01M702 663.5h.01M702.5 664.6h.01M703.1 665.8h.01M703.6 667.1h.01M704.2 668.4h.01M704.8 669.7h.01M705.3 671.1h.01M705.9 672.4h.01M706.4 673.8h.01M707 675.2h.01M707.5 676.6h.01M708.1 678.1h.01M708.6 679.7h.01M709.1 681.4h.01M709.7 683.2h.01M710.2 685.1h.01M710.7 687.3h.01M711.3 689.6h.01M711.8 692.1h.01M712.3 694.7h.01M712.9 697.3h.01M713.4 699.9h.01M713.9 702.9h.01M714.4 706.1h.01M714.9 709h.01M715.4 711.3h.01M716 713.1h.01M716.5 714.7h.01M717 716.1h.01M717.5 717.4h.01M718 718.5h.01M718.5 719.3h.01M719 720h.01M719.5 720.7h.01M720 721.2h.01M720.5 721.4h.01M721 721.2h.01M721.5 720.7h.01M722 720h.01M722.5 719.1h.01M722.9 718.2h.01M723.4 717.1h.01M723.9 715.8h.01M724.4 714.3h.01M724.9 712.8h.01M725.4 711.4h.01M725.8 709.9h.01M726.3 708.2h.01M726.8 706.5h.01M727.2 704.9h.01M727.7 703.3h.01M728.2 701.9h.01M728.7 700.7h.01M729.1 699.8h.01M729.6 699.1h.01M730 698.6h.01M730.5 698.1h.01M731 697.6h.01M731.4 697.1h.01M731.9 696.8h.01M732.3 696.5h.01M732.8 696.3h.01M733.2 696.2h.01M733.7 696.2h.01M734.1 696.5h.01M734.6 696.9h.01M735 697.5h.01M735.5 698.1h.01M735.9 698.8h.01M736.3 699.6h.01M736.8 700.5h.01M737.2 701.7h.01M737.7 703.1h.01M738.1 704.7h.01M738.5 706.4h.01M739 708.2h.01M739.4 710.1h.01M739.8 712.3h.01M740.3 714.7h.01M740.7 717.2h.01M741.1 720h.01M741.5 722.9h.01M742 725.9h.01M742.4 729.2h.01M742.8 733.1h.01M743.2 737.5h.01M743.6 742.1h.01M744 746.5h.01M744.5 750.6h.01M744.9 754.3h.01M745.3 757.9h.01M745.7 761.8h.01M746.1 766.2h.01M746.5 771.6h.01M746.9 778.7h.01M747.3 786.6h.01M747.7 795.1h.01M748.1 807.1h.01M748.5 817h.01M748.9 828.1h.01M749.3 840.2h.01M749.7 853.5h.01M750.1 868.5h.01M750.5 887.7h.01M750.9 898.8h.01M763 898.8h.01M763.4 892.9h.01M763.7 881.7h.01M764.1 871.2h.01M764.5 861.5h.01M764.8 851.9h.01M765.2 836.7h.01M765.5 826.2h.01M765.9 818.5h.01M766.2 811.9h.01M766.6 805.4h.01M766.9 799.2h.01M767.3 793.6h.01M767.6 788.9h.01M768 784.1h.01M768.3 777.9h.01M768.7 772.3h.01M769 768h.01M769.4 764.1h.01M769.7 761h.01M770.1 758.7h.01M770.4 756.8h.01M770.7 755.3h.01M771.1 753.9h.01M771.4 752.8h.01M771.8 752.1h.01M772.1 751.5h.01M772.4 751h.01M772.8 750.5h.01M773.1 750.1h.01M773.4 749.8h.01M773.8 749.6h.01M774.1 749.5h.01M774.4 749.6h.01M774.8 749.9h.01M775.1 750.4h.01M775.4 751h.01M775.8 751.7h.01M776.1 752.5h.01M776.4 753.3h.01M776.7 754.5h.01M777.1 756.1h.01M777.4 758h.01M777.7 760.2h.01M778 762.6h.01M778.4 765.7h.01M778.7 769.8h.01M779 774.2h.01M779.3 777.8h.01M779.7 780.8h.01M780 783.5h.01M780.3 786h.01M780.6 788.5h.01M780.9 791h.01M781.2 793.6h.01M781.6 796h.01M781.9 798.5h.01M782.2 800.9h.01M782.5 803.4h.01M782.8 806h.01M783.1 808.6h.01M783.4 811.4h.01M783.7 814.3h.01M784.1 817.4h.01M784.4 820.7h.01M784.7 824h.01M785 827.4h.01M785.3 830.8h.01M785.6 834.2h.01M785.9 837.5h.01M786.2 840.9h.01M786.5 844.2h.01M786.8 847.5h.01M787.1 850.8h.01M787.4 854.2h.01M787.7 857.6h.01M788 860.7h.01M788.3 864.1h.01M788.6 873.8h.01M788.9 888.9h.01M789.2 900.2h.01M789.5 903.4h.01"/>
<path d="M607.1 557L820 744.8" stroke="#000" stroke-width="8" stroke-linecap="round" fill="none"/>
</g>
<path stroke="#000" stroke-width="2" fill="none" d="M169 351.3H802 M169 903.8H802 M180 350.3V904.8"/>
<path stroke="#000" stroke-width="2" fill="none" d="M180 351.3H169M180 480H174M180 447.6H174M180 424.6H174M180 406.7H174M180 392.2H174M180 379.8H174M180 369.1H174M180 359.7H174M180 535.5H169M180 664.2H174M180 631.7H174M180 608.7H174M180 590.9H174M180 576.3H174M180 564H174M180 553.3H174M180 543.9H174M180 719.6H169M180 848.3H174M180 815.9H174M180 792.9H174M180 775H174M180 760.5H174M180 748.1H174M180 737.4H174M180 728H174M180 903.8H169M180 903.8V908.8M204.7 903.8V908.8M225.5 903.8V908.8M243.6 903.8V908.8M259.5 903.8V908.8M273.7 903.8V913.8M367.4 903.8V908.8M422.1 903.8V908.8M461 903.8V908.8M491.1 903.8V908.8M515.8 903.8V908.8M536.6 903.8V908.8M554.7 903.8V908.8M570.6 903.8V908.8M584.8 903.8V913.8M678.5 903.8V908.8M733.2 903.8V908.8M772.1 903.8V908.8"/>
<rect x="670.7" y="358.3" width="140" height="201.3" fill="#fff" stroke="#333" stroke-width="1"/>
<rect x="700.3" y="373.5" width="7.4" height="7.4" fill="#0000ff"/>
<text transform="translate(739.6 385.8) scale(1 1.04)" font-size="26.6">T=960 K</text>
<rect x="700.3" y="405.6" width="7.4" height="7.4" fill="#4dbeff"/>
<text transform="translate(739.6 417.9) scale(1 1.04)" font-size="26.6">T=1200 K</text><path fill="#fff" d="M772.45 414.33h5.41v4.97h-5.41zM780.6 414.33h5.32v4.97h-5.32z"/>
<rect x="700.3" y="437.8" width="7.4" height="7.4" fill="#008000"/>
<text transform="translate(739.6 450) scale(1 1.04)" font-size="26.6">T=1500 K</text><path fill="#fff" d="M772.45 446.43h5.41v4.97h-5.41zM780.6 446.43h5.32v4.97h-5.32z"/>
<circle cx="704" cy="473.6" r="3.8" fill="#ff8000"/>
<text transform="translate(739.6 482.1) scale(1 1.04)" font-size="26.6">T=1800 K</text><path fill="#fff" d="M772.45 478.53h5.41v4.97h-5.41zM780.6 478.53h5.32v4.97h-5.32z"/>
<circle cx="704" cy="505.8" r="3.8" fill="#ff0000"/>
<text transform="translate(739.6 514.2) scale(1 1.04)" font-size="26.6">T=2200 K</text>
<path d="M675.3 541.8H732.8" stroke="#000" stroke-width="7.9" stroke-linecap="round"/>
<text transform="translate(739.8 550.5) scale(1 1.04)" font-size="26.6">t<tspan font-size="17.4" dy="-10.2">-3/2</tspan><tspan dy="10.2" font-size="26.6"> decay</tspan></text>
<text transform="translate(144.03 360.8) scale(1 1.04)" font-size="31.6">1</text><path fill="#fff" d="M145.29 356.81h6.47v5.39h-6.47zM154.94 356.81h6.32v5.39h-6.32z"/>
<text transform="translate(117.68 544.95) scale(1 1.04)" font-size="31.6">0.1</text><path fill="#fff" d="M145.29 540.96h6.47v5.39h-6.47zM154.94 540.96h6.32v5.39h-6.32z"/>
<text transform="translate(100.11 729.1) scale(1 1.04)" font-size="31.6">0.01</text><path fill="#fff" d="M145.29 725.11h6.47v5.39h-6.47zM154.94 725.11h6.32v5.39h-6.32z"/>
<text transform="translate(82.54 913.25) scale(1 1.04)" font-size="31.6">0.001</text><path fill="#fff" d="M145.29 909.26h6.47v5.39h-6.47zM154.94 909.26h6.32v5.39h-6.32z"/>
<text transform="translate(242.85 947.2) scale(1 1.04)" font-size="31.6">0.01</text><path fill="#fff" d="M288.04 943.21h6.47v5.39h-6.47zM297.69 943.21h6.32v5.39h-6.32z"/>
<text transform="translate(391.29 947.2) scale(1 1.04)" font-size="31.6">0.03</text>
<text transform="translate(562.74 947.2) scale(1 1.04)" font-size="31.6">0.1</text><path fill="#fff" d="M590.36 943.21h6.47v5.39h-6.47zM600 943.21h6.32v5.39h-6.32z"/>
<text transform="translate(711.17 947.2) scale(1 1.04)" font-size="31.6">0.3</text>
<text transform="translate(522.2 1001.8) scale(1 1.04)" font-size="36.1" text-anchor="middle">time (ps)</text>
<text transform="translate(69.9 628.2) rotate(-90) scale(1 1.04)" font-size="37.6" text-anchor="middle">VACF</text>
<text transform="translate(268.3 546.8) scale(1 1.0)" font-size="37.5" text-anchor="middle">(b)</text>
</svg></body></html>
